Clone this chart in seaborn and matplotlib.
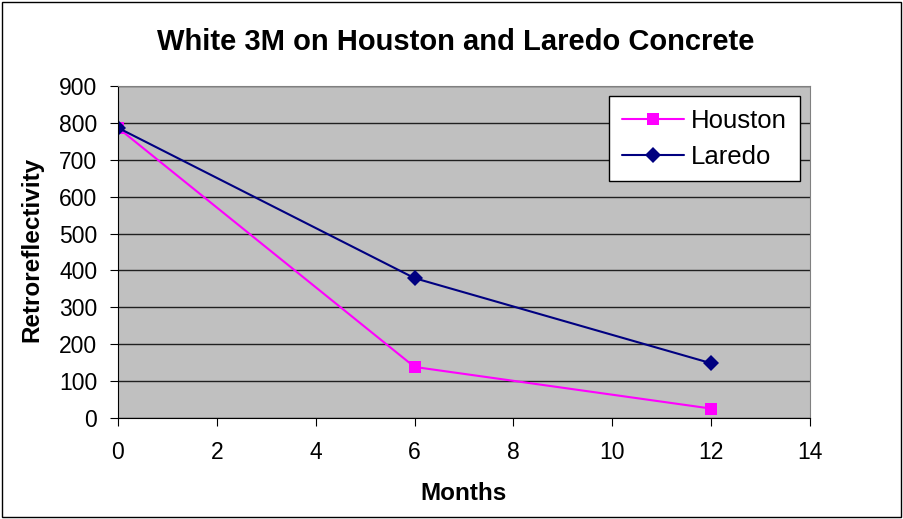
import seaborn as sns
import matplotlib.pyplot as plt
import pandas as pd
from matplotlib.patches import Rectangle

# data
months = [0, 6, 12]
houston = [787, 138, 25]
laredo = [787, 379, 148]

df = pd.DataFrame({
    "Months": months * 2,
    "Retroreflectivity": houston + laredo,
    "Site": ["Houston"] * 3 + ["Laredo"] * 3,
})

sns.set_style("white")
plt.rcParams["font.family"] = ["Liberation Sans", "DejaVu Sans"]
plt.rcParams["text.color"] = "black"
plt.rcParams["axes.labelcolor"] = "black"
plt.rcParams["xtick.color"] = "black"
plt.rcParams["ytick.color"] = "black"

fig = plt.figure(figsize=(9.04, 5.19), dpi=100)
ax = fig.add_axes([0.1305, 0.195, 0.7655, 0.639])
ax.set_facecolor("#c0c0c0")

sns.lineplot(data=df, x="Months", y="Retroreflectivity", hue="Site",
             style="Site", markers={"Houston": "s", "Laredo": "D"}, dashes=False,
             palette={"Houston": "#ff00ff", "Laredo": "#000080"},
             markersize=8.5, markeredgewidth=0, linewidth=1.5, ax=ax)

ax.set_xlim(0, 14)
ax.set_ylim(0, 900)
ax.set_xticks(range(0, 15, 2))
ax.set_yticks(range(0, 901, 100))
ax.yaxis.grid(True, color="#202020", linewidth=1)
ax.set_axisbelow(True)
for s in ["top", "right"]:
    ax.spines[s].set_color("#808080")
for s in ["left", "bottom"]:
    ax.spines[s].set_color("black")
ax.tick_params(axis="both", labelsize=16.5, length=6, direction="out",
               bottom=True, left=True)
ax.tick_params(axis="x", pad=11)
ax.tick_params(axis="y", pad=9)
ax.set_xlabel("")
ax.set_ylabel("")
fig.text(464 / 904, 1 - 493 / 519, "Months", fontsize=17.5, fontweight="bold",
         ha="center", va="center")
fig.text(32 / 904, 1 - 249 / 519, "Retroreflectivity", fontsize=17.5,
         fontweight="bold", ha="center", va="center", rotation=90)
fig.text(456 / 904, 1 - 42 / 519, "White 3M on Houston and Laredo Concrete",
         fontsize=21, fontweight="bold", ha="center", va="center")

leg = ax.legend(loc="upper right", bbox_to_anchor=(0.9855, 0.970), borderaxespad=0,
                fontsize=18.5, frameon=True, fancybox=False, edgecolor="black",
                framealpha=1, handlelength=2.4, handletextpad=0.3,
                borderpad=0.5, labelspacing=0.45)
leg.get_frame().set_linewidth(1)

fig.patches.append(Rectangle((0.002, 0.003), 0.995, 0.993, transform=fig.transFigure,
                             fill=False, edgecolor="black", linewidth=1))

plt.savefig("out.png", dpi=100)
